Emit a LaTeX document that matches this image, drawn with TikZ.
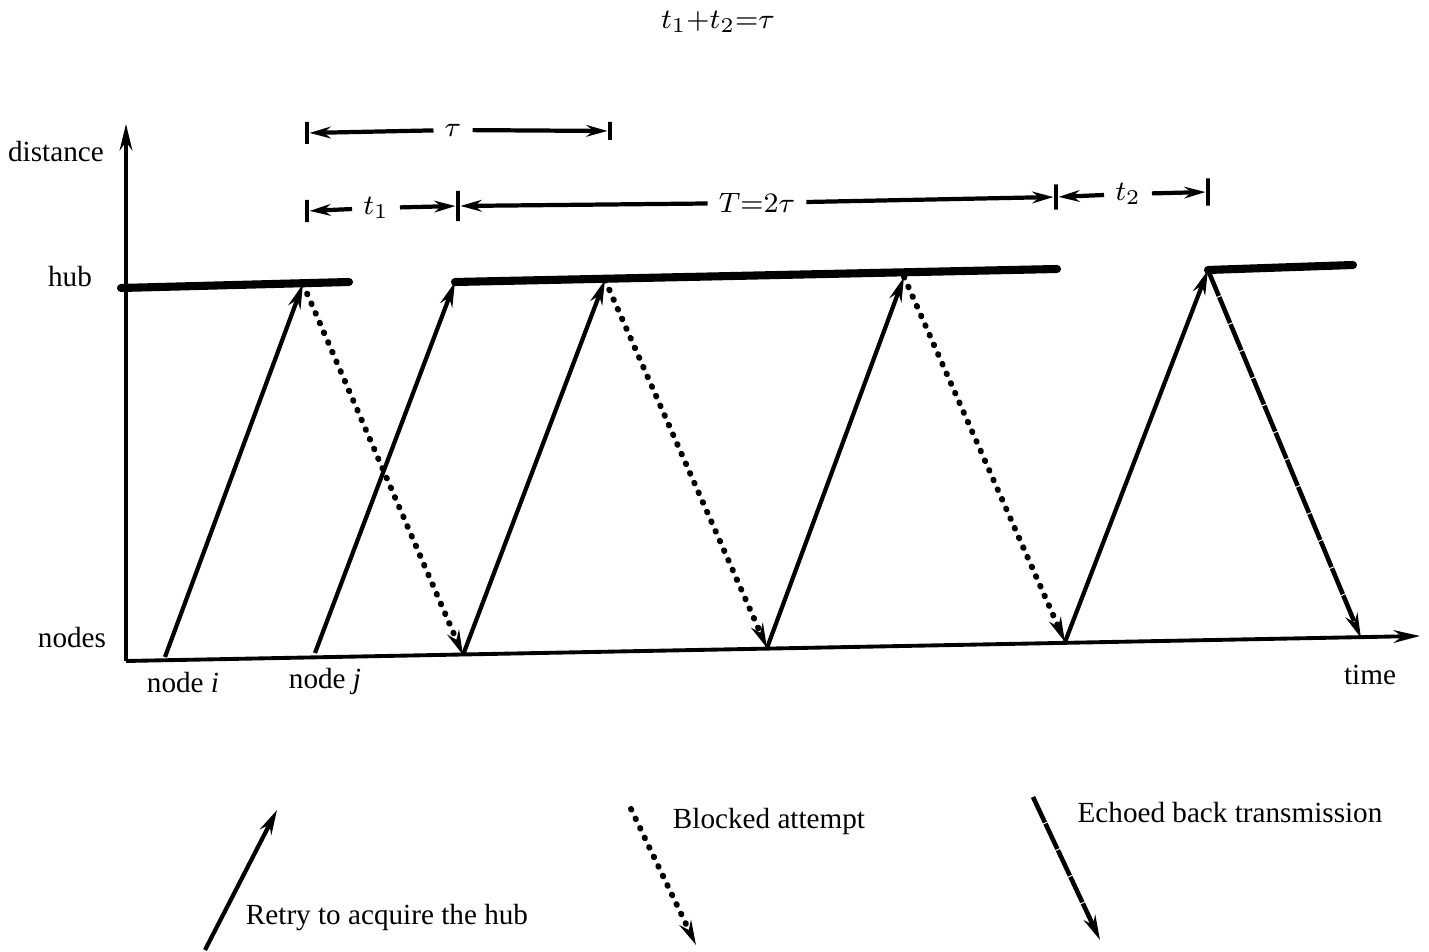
\documentclass[tikz,border=0pt]{standalone}
\usepackage{fontspec}
\setmainfont{Liberation Serif}
\usetikzlibrary{arrows.meta,positioning}
\tikzset{
  axis/.style={line width=1.1pt, draw=black},
  hubline/.style={line width=2.3pt, draw=black, line cap=round},
  send/.style={-{Stealth[length=7pt,width=3.6pt]}, line width=1.2pt},
  blocked/.style={-{Stealth[length=7pt,width=3.6pt]}, line width=1.7pt, dash pattern=on 0.2pt off 2.8pt, line cap=round},
  echo/.style={-{Stealth[length=7pt,width=3.6pt]}, line width=1.3pt, dash pattern=on 8pt off 0.35pt},
  dimarrow/.style={-{Stealth[length=6pt,width=3.3pt]}, line width=1.2pt},
  dimtick/.style={draw, line width=1.4pt, minimum width=0pt, inner sep=0pt, minimum height=#1},
  dimtick/.default=0.22cm,
  dimlabel/.style={inner sep=3pt},
  lbl/.style={inner sep=1pt}
}

\begin{document}
\begin{tikzpicture}[x=0.01cm, y=-0.01cm, font=\fontsize{8.3pt}{10pt}\selectfont]
  \useasboundingbox (0,0) rectangle (1429,952);

  % axes
  \coordinate (origin) at (126,661);
  \coordinate (ytop) at (126,124);
  \coordinate (xend) at (1420,636);
  \draw[axis, -{Stealth[length=7.5pt,width=3.6pt]}] (origin) -- (ytop);
  \draw[axis, -{Stealth[length=7.5pt,width=3.6pt]}] (origin) -- (xend);

  \node[lbl, anchor=east] (dist) at (108,152) {distance};
  \node[lbl] (hub) at (70,277) {hub};
  \node[lbl] (nodes) at (72,638) {nodes};
  \node[lbl] (timelbl) at (1370,675) {time};
  \node[lbl] (ni) at (183,683) {node \textit{i}};
  \node[lbl] (nj) at (325,681) {node \textit{j}};

  % feet and peaks
  \coordinate (fi) at (165,657);
  \coordinate (fj) at (315,653);
  \coordinate (b1) at (463,655);
  \coordinate (b2) at (767,648);
  \coordinate (b3) at (1065,642);
  \coordinate (b4) at (1361,638);
  \coordinate (p1) at (303,284);
  \coordinate (p2) at (455,282);
  \coordinate (p3) at (605,280);
  \coordinate (p4) at (904,277);
  \coordinate (p5) at (1208,270);

  % hub busy periods
  \coordinate (h1s) at (121,288);
  \coordinate (h1e) at (349,282);
  \coordinate (h2e) at (1057,269);
  \coordinate (h3e) at (1353,265);
  \draw[hubline] (h1s) -- (h1e);
  \draw[hubline] (p2) -- (h2e);
  \draw[hubline] (p5) -- (h3e);

  % transmissions
  \draw[send] (fi) -- (p1);
  \draw[send] (fj) -- (p2);
  \draw[send] (b1) -- (p3);
  \draw[send] (b2) -- (p4);
  \draw[send] (b3) -- (p5);
  \draw[blocked] (p1) -- (b1);
  \draw[blocked] (p3) -- (b2);
  \draw[blocked] (p4) -- (b3);
  \draw[echo] (p5) -- (b4);

  % dimensions
  \node[dimtick] (tauL) at (307,133) {};
  \node[dimtick=0.18cm] (tauR) at (610,131) {};
  \node[dimlabel] (tau) at (453,130) {$\tau$};
  \draw[dimarrow] (tau) -- (tauL);
  \draw[dimarrow] (tau) -- (tauR);

  \node[dimtick] (tiL) at (307,211) {};
  \node[dimtick=0.3cm] (tiR) at (458,206) {};
  \node[dimlabel] (ti) at (376,208) {$t_1$};
  \draw[dimarrow] (ti) -- (tiL);
  \draw[dimarrow] (ti) -- (tiR);

  \node[dimtick=0.25cm] (tiiL) at (1056,197) {};
  \node[dimtick=0.27cm] (tiiR) at (1208,192) {};
  \node[dimlabel] (T) at (757,203) {$T{=}2\tau$};
  \draw[dimarrow] (T) -- (tiR);
  \draw[dimarrow] (T) -- (tiiL);

  \node[dimlabel] (tii) at (1128,194) {$t_2$};
  \draw[dimarrow] (tii) -- (tiiL);
  \draw[dimarrow] (tii) -- (tiiR);

  \node[lbl] (eq) at (718,22) {$t_1{+}t_2{=}\tau$};

  % legend
  \coordinate (rs) at (205,950);
  \coordinate (re) at (277,810);
  \draw[send] (rs) -- (re);
  \node[lbl] (retry) at (387,918) {Retry to acquire the hub};

  \coordinate (bs) at (631,809);
  \coordinate (be) at (696,945);
  \draw[blocked] (bs) -- (be);
  \node[lbl] (blk) at (769,821) {Blocked attempt};

  \coordinate (es) at (1033,797);
  \coordinate (ee) at (1100,940);
  \draw[echo] (es) -- (ee);
  \node[lbl] (ech) at (1230,813) {Echoed back transmission};
\end{tikzpicture}
\end{document}
